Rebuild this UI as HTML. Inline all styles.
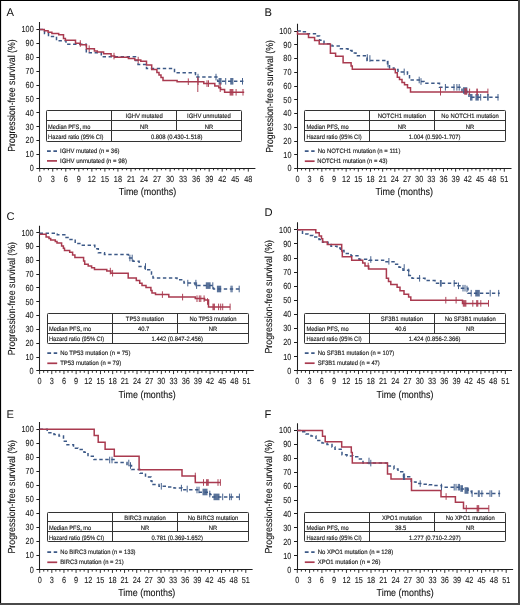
<!DOCTYPE html>
<html><head><meta charset="utf-8"><style>
html,body{margin:0;padding:0;background:#fff;}
svg{display:block;will-change:transform;}
text{font-family:"Liberation Sans", sans-serif;text-rendering:geometricPrecision;}
</style></head><body>
<svg width="520" height="605" viewBox="0 0 520 605">
<rect x="0" y="0" width="520" height="605" fill="#fff"/>
<text x="6.6" y="16.2" font-size="11.2" fill="#111" stroke="#111" stroke-width="0">A</text>
<path d="M39.5 22.1V168.5M36.4 168.5H255.4M36.4 168.5H39.5M36.4 154.5H39.5M36.4 140.5H39.5M36.4 126.5H39.5M36.4 112.5H39.5M36.4 98.5H39.5M36.4 85.5H39.5M36.4 71.5H39.5M36.4 57.5H39.5M36.4 43.5H39.5M36.4 29.5H39.5" stroke="#1e1e1e" stroke-width="1.05" fill="none"/>
<path d="M39.7 168.5V171.6M44.05 168.5V170.3M48.39 168.5V170.3M52.74 168.5V171.6M57.08 168.5V170.3M61.43 168.5V170.3M65.78 168.5V171.6M70.12 168.5V170.3M74.47 168.5V170.3M78.81 168.5V171.6M83.16 168.5V170.3M87.5 168.5V170.3M91.85 168.5V171.6M96.2 168.5V170.3M100.54 168.5V170.3M104.89 168.5V171.6M109.23 168.5V170.3M113.58 168.5V170.3M117.93 168.5V171.6M122.27 168.5V170.3M126.62 168.5V170.3M130.96 168.5V171.6M135.31 168.5V170.3M139.65 168.5V170.3M144 168.5V171.6M148.35 168.5V170.3M152.69 168.5V170.3M157.04 168.5V171.6M161.38 168.5V170.3M165.73 168.5V170.3M170.08 168.5V171.6M174.42 168.5V170.3M178.77 168.5V170.3M183.11 168.5V171.6M187.46 168.5V170.3M191.8 168.5V170.3M196.15 168.5V171.6M200.5 168.5V170.3M204.84 168.5V170.3M209.19 168.5V171.6M213.53 168.5V170.3M217.88 168.5V170.3M222.23 168.5V171.6M226.57 168.5V170.3M230.92 168.5V170.3M235.26 168.5V171.6M239.61 168.5V170.3M243.95 168.5V170.3M248.3 168.5V171.6" stroke="#1e1e1e" stroke-width="0.9" fill="none"/>
<text transform="translate(33.7 171.2) scale(0.8300 1)" font-size="8.8" text-anchor="end" fill="#1c1c1c" stroke="#1c1c1c" stroke-width="0.1">0</text>
<text transform="translate(33.7 157.3) scale(0.8300 1)" font-size="8.8" text-anchor="end" fill="#1c1c1c" stroke="#1c1c1c" stroke-width="0.1">10</text>
<text transform="translate(33.7 143.4) scale(0.8300 1)" font-size="8.8" text-anchor="end" fill="#1c1c1c" stroke="#1c1c1c" stroke-width="0.1">20</text>
<text transform="translate(33.7 129.5) scale(0.8300 1)" font-size="8.8" text-anchor="end" fill="#1c1c1c" stroke="#1c1c1c" stroke-width="0.1">30</text>
<text transform="translate(33.7 115.6) scale(0.8300 1)" font-size="8.8" text-anchor="end" fill="#1c1c1c" stroke="#1c1c1c" stroke-width="0.1">40</text>
<text transform="translate(33.7 101.7) scale(0.8300 1)" font-size="8.8" text-anchor="end" fill="#1c1c1c" stroke="#1c1c1c" stroke-width="0.1">50</text>
<text transform="translate(33.7 87.8) scale(0.8300 1)" font-size="8.8" text-anchor="end" fill="#1c1c1c" stroke="#1c1c1c" stroke-width="0.1">60</text>
<text transform="translate(33.7 73.9) scale(0.8300 1)" font-size="8.8" text-anchor="end" fill="#1c1c1c" stroke="#1c1c1c" stroke-width="0.1">70</text>
<text transform="translate(33.7 60) scale(0.8300 1)" font-size="8.8" text-anchor="end" fill="#1c1c1c" stroke="#1c1c1c" stroke-width="0.1">80</text>
<text transform="translate(33.7 46.1) scale(0.8300 1)" font-size="8.8" text-anchor="end" fill="#1c1c1c" stroke="#1c1c1c" stroke-width="0.1">90</text>
<text transform="translate(33.7 32.2) scale(0.8300 1)" font-size="8.8" text-anchor="end" fill="#1c1c1c" stroke="#1c1c1c" stroke-width="0.1">100</text>
<text transform="translate(39.7 181.5) scale(0.8300 1)" font-size="8.8" text-anchor="middle" fill="#1c1c1c" stroke="#1c1c1c" stroke-width="0.1">0</text>
<text transform="translate(52.74 181.5) scale(0.8300 1)" font-size="8.8" text-anchor="middle" fill="#1c1c1c" stroke="#1c1c1c" stroke-width="0.1">3</text>
<text transform="translate(65.78 181.5) scale(0.8300 1)" font-size="8.8" text-anchor="middle" fill="#1c1c1c" stroke="#1c1c1c" stroke-width="0.1">6</text>
<text transform="translate(78.81 181.5) scale(0.8300 1)" font-size="8.8" text-anchor="middle" fill="#1c1c1c" stroke="#1c1c1c" stroke-width="0.1">9</text>
<text transform="translate(91.85 181.5) scale(0.8300 1)" font-size="8.8" text-anchor="middle" fill="#1c1c1c" stroke="#1c1c1c" stroke-width="0.1">12</text>
<text transform="translate(104.89 181.5) scale(0.8300 1)" font-size="8.8" text-anchor="middle" fill="#1c1c1c" stroke="#1c1c1c" stroke-width="0.1">15</text>
<text transform="translate(117.93 181.5) scale(0.8300 1)" font-size="8.8" text-anchor="middle" fill="#1c1c1c" stroke="#1c1c1c" stroke-width="0.1">18</text>
<text transform="translate(130.96 181.5) scale(0.8300 1)" font-size="8.8" text-anchor="middle" fill="#1c1c1c" stroke="#1c1c1c" stroke-width="0.1">21</text>
<text transform="translate(144 181.5) scale(0.8300 1)" font-size="8.8" text-anchor="middle" fill="#1c1c1c" stroke="#1c1c1c" stroke-width="0.1">24</text>
<text transform="translate(157.04 181.5) scale(0.8300 1)" font-size="8.8" text-anchor="middle" fill="#1c1c1c" stroke="#1c1c1c" stroke-width="0.1">27</text>
<text transform="translate(170.08 181.5) scale(0.8300 1)" font-size="8.8" text-anchor="middle" fill="#1c1c1c" stroke="#1c1c1c" stroke-width="0.1">30</text>
<text transform="translate(183.11 181.5) scale(0.8300 1)" font-size="8.8" text-anchor="middle" fill="#1c1c1c" stroke="#1c1c1c" stroke-width="0.1">33</text>
<text transform="translate(196.15 181.5) scale(0.8300 1)" font-size="8.8" text-anchor="middle" fill="#1c1c1c" stroke="#1c1c1c" stroke-width="0.1">36</text>
<text transform="translate(209.19 181.5) scale(0.8300 1)" font-size="8.8" text-anchor="middle" fill="#1c1c1c" stroke="#1c1c1c" stroke-width="0.1">39</text>
<text transform="translate(222.23 181.5) scale(0.8300 1)" font-size="8.8" text-anchor="middle" fill="#1c1c1c" stroke="#1c1c1c" stroke-width="0.1">42</text>
<text transform="translate(235.26 181.5) scale(0.8300 1)" font-size="8.8" text-anchor="middle" fill="#1c1c1c" stroke="#1c1c1c" stroke-width="0.1">45</text>
<text transform="translate(248.3 181.5) scale(0.8300 1)" font-size="8.8" text-anchor="middle" fill="#1c1c1c" stroke="#1c1c1c" stroke-width="0.1">48</text>
<text transform="translate(118.8 195) scale(0.8782 1)" font-size="10.2" fill="#111" stroke="#111" stroke-width="0.1">Time (months)</text>
<g transform="translate(14.8 151.8) rotate(-90)"><text transform="translate(0 0) scale(0.8555 1)" font-size="10.2" fill="#111" stroke="#111" stroke-width="0.1">Progression-free survival (%)</text></g>
<rect x="46.5" y="110.5" width="195" height="31" rx="0.8" fill="#fff" stroke="#333333" stroke-width="1.0"/>
<path d="M46.5 120.5H241.5M46.5 130.5H241.5M111.5 110.5V141.5M176.5 110.5V130.5" stroke="#333333" stroke-width="1" fill="none"/>
<text transform="translate(48.1 128.5) scale(0.9030 1)" font-size="6.3" fill="#1a1a1a" stroke="#1a1a1a" stroke-width="0.15">Median PFS, mo</text>
<text transform="translate(48.1 138.8) scale(0.9090 1)" font-size="6.3" fill="#1a1a1a" stroke="#1a1a1a" stroke-width="0.15">Hazard ratio (95% CI)</text>
<text transform="translate(144.2 118.1) scale(0.9320 1)" font-size="6.3" text-anchor="middle" fill="#1a1a1a" stroke="#1a1a1a" stroke-width="0.15">IGHV mutated</text>
<text transform="translate(208.9 118.1) scale(0.9320 1)" font-size="6.3" text-anchor="middle" fill="#1a1a1a" stroke="#1a1a1a" stroke-width="0.15">IGHV unmutated</text>
<text transform="translate(144.2 128.5) scale(0.9320 1)" font-size="6.3" text-anchor="middle" fill="#1a1a1a" stroke="#1a1a1a" stroke-width="0.15">NR</text>
<text transform="translate(208.9 128.5) scale(0.9320 1)" font-size="6.3" text-anchor="middle" fill="#1a1a1a" stroke="#1a1a1a" stroke-width="0.15">NR</text>
<text transform="translate(176.7 138.8) scale(0.9320 1)" font-size="6.3" text-anchor="middle" fill="#1a1a1a" stroke="#1a1a1a" stroke-width="0.15">0.808 (0.430-1.518)</text>
<path d="M47 151.1H57" stroke="#3c5987" stroke-width="1.7" stroke-dasharray="3.8 2.6" fill="none"/>
<path d="M47 160.9H57" stroke="#a93a4f" stroke-width="1.7" fill="none"/>
<text transform="translate(60 152.9) scale(0.9346 1)" font-size="6.3" fill="#1a1a1a" stroke="#1a1a1a" stroke-width="0.15">IGHV mutated (n = 36)</text>
<text transform="translate(60 162.7) scale(0.9481 1)" font-size="6.3" fill="#1a1a1a" stroke="#1a1a1a" stroke-width="0.15">IGHV unmutated (n = 98)</text>
<path d="M39.7 29.6H44.5V33.6H48.5V36.5H56.5V40.8H66V44.2H86.3V52.7H101.3V56.7H135.5V60.5H138V64.4H146.5V68.5H174.5V72.8H195.5V77.1H217.7V81.3H244.2" stroke="#3c5987" stroke-width="1.5" fill="none" stroke-dasharray="3.4 2.6"/>
<path d="M39.7 29.6H44.3V30.7H48.1V32.2H51.9V33.6H58.7V34.8H63.5V38.4H65.4V40.2H75.5V43.2H80.3V44.7H86.4V48.7H94.4V51H97.3V52.1H103.6V53.8H111.1V56.1H114.6V57.3H128.4V58.5H134.8V60.1H140.8V61.2H146.5V65H151.7V69.6H156.9V72.5H159V75H161V77.5H163V80.6H177.1V81.7H203.8V83.6H214.8V86H218.8V87.7H220.6V89.4H224.6V92.3H244.2" stroke="#a93a4f" stroke-width="1.5" fill="none"/>
<path d="M198 73.8V80.4M216 73.8V80.4M225.7 78V84.6M242.5 78V84.6" stroke="#3c5987" stroke-width="0.95" fill="none"/>
<path d="M80.3 40.2V46.8M89.2 45.4V52M114 52.8V59.4M138.2 56.8V63.4M188.3 78.4V85M198.1 78.4V85M207 80.3V86.9M208.5 80.3V86.9M236.1 89V95.6M243 89V95.6" stroke="#a93a4f" stroke-width="0.95" fill="none"/>
<rect x="218.6" y="78" width="3" height="6.6" fill="#3c5987" fill-opacity="0.85"/>
<rect x="230.2" y="78" width="3.2" height="6.6" fill="#3c5987" fill-opacity="0.85"/>
<rect x="229.6" y="89" width="3.8" height="6.6" fill="#a93a4f" fill-opacity="0.85"/>
<path d="M197.8 77V92" stroke="#a93a4f" stroke-width="0.95" fill="none"/>
<path d="M220.2 83V92" stroke="#a93a4f" stroke-width="0.95" fill="none"/>
<text x="264.4" y="16.3" font-size="11.2" fill="#111" stroke="#111" stroke-width="0">B</text>
<path d="M297.5 23.8V168.5M294.2 168.5H511.5M294.2 168.5H297.5M294.2 154.5H297.5M294.2 141.5H297.5M294.2 127.5H297.5M294.2 113.5H297.5M294.2 99.5H297.5M294.2 86.5H297.5M294.2 72.5H297.5M294.2 58.5H297.5M294.2 44.5H297.5M294.2 31.5H297.5" stroke="#1e1e1e" stroke-width="1.05" fill="none"/>
<path d="M297.5 168.5V171.7M301.55 168.5V170.4M305.61 168.5V170.4M309.66 168.5V171.7M313.72 168.5V170.4M317.77 168.5V170.4M321.83 168.5V171.7M325.88 168.5V170.4M329.94 168.5V170.4M333.99 168.5V171.7M338.05 168.5V170.4M342.1 168.5V170.4M346.16 168.5V171.7M350.21 168.5V170.4M354.27 168.5V170.4M358.32 168.5V171.7M362.38 168.5V170.4M366.43 168.5V170.4M370.49 168.5V171.7M374.54 168.5V170.4M378.6 168.5V170.4M382.65 168.5V171.7M386.71 168.5V170.4M390.76 168.5V170.4M394.82 168.5V171.7M398.87 168.5V170.4M402.93 168.5V170.4M406.98 168.5V171.7M411.04 168.5V170.4M415.09 168.5V170.4M419.15 168.5V171.7M423.2 168.5V170.4M427.26 168.5V170.4M431.31 168.5V171.7M435.37 168.5V170.4M439.42 168.5V170.4M443.48 168.5V171.7M447.53 168.5V170.4M451.59 168.5V170.4M455.64 168.5V171.7M459.7 168.5V170.4M463.75 168.5V170.4M467.81 168.5V171.7M471.86 168.5V170.4M475.92 168.5V170.4M479.97 168.5V171.7M484.03 168.5V170.4M488.08 168.5V170.4M492.14 168.5V171.7M496.19 168.5V170.4M500.25 168.5V170.4M504.3 168.5V171.7" stroke="#1e1e1e" stroke-width="0.9" fill="none"/>
<text transform="translate(291.5 171.3) scale(0.8300 1)" font-size="8.8" text-anchor="end" fill="#1c1c1c" stroke="#1c1c1c" stroke-width="0.1">0</text>
<text transform="translate(291.5 157.55) scale(0.8300 1)" font-size="8.8" text-anchor="end" fill="#1c1c1c" stroke="#1c1c1c" stroke-width="0.1">10</text>
<text transform="translate(291.5 143.8) scale(0.8300 1)" font-size="8.8" text-anchor="end" fill="#1c1c1c" stroke="#1c1c1c" stroke-width="0.1">20</text>
<text transform="translate(291.5 130.05) scale(0.8300 1)" font-size="8.8" text-anchor="end" fill="#1c1c1c" stroke="#1c1c1c" stroke-width="0.1">30</text>
<text transform="translate(291.5 116.3) scale(0.8300 1)" font-size="8.8" text-anchor="end" fill="#1c1c1c" stroke="#1c1c1c" stroke-width="0.1">40</text>
<text transform="translate(291.5 102.55) scale(0.8300 1)" font-size="8.8" text-anchor="end" fill="#1c1c1c" stroke="#1c1c1c" stroke-width="0.1">50</text>
<text transform="translate(291.5 88.8) scale(0.8300 1)" font-size="8.8" text-anchor="end" fill="#1c1c1c" stroke="#1c1c1c" stroke-width="0.1">60</text>
<text transform="translate(291.5 75.05) scale(0.8300 1)" font-size="8.8" text-anchor="end" fill="#1c1c1c" stroke="#1c1c1c" stroke-width="0.1">70</text>
<text transform="translate(291.5 61.3) scale(0.8300 1)" font-size="8.8" text-anchor="end" fill="#1c1c1c" stroke="#1c1c1c" stroke-width="0.1">80</text>
<text transform="translate(291.5 47.55) scale(0.8300 1)" font-size="8.8" text-anchor="end" fill="#1c1c1c" stroke="#1c1c1c" stroke-width="0.1">90</text>
<text transform="translate(291.5 33.8) scale(0.8300 1)" font-size="8.8" text-anchor="end" fill="#1c1c1c" stroke="#1c1c1c" stroke-width="0.1">100</text>
<text transform="translate(297.5 181.6) scale(0.8300 1)" font-size="8.8" text-anchor="middle" fill="#1c1c1c" stroke="#1c1c1c" stroke-width="0.1">0</text>
<text transform="translate(309.66 181.6) scale(0.8300 1)" font-size="8.8" text-anchor="middle" fill="#1c1c1c" stroke="#1c1c1c" stroke-width="0.1">3</text>
<text transform="translate(321.83 181.6) scale(0.8300 1)" font-size="8.8" text-anchor="middle" fill="#1c1c1c" stroke="#1c1c1c" stroke-width="0.1">6</text>
<text transform="translate(333.99 181.6) scale(0.8300 1)" font-size="8.8" text-anchor="middle" fill="#1c1c1c" stroke="#1c1c1c" stroke-width="0.1">9</text>
<text transform="translate(346.16 181.6) scale(0.8300 1)" font-size="8.8" text-anchor="middle" fill="#1c1c1c" stroke="#1c1c1c" stroke-width="0.1">12</text>
<text transform="translate(358.32 181.6) scale(0.8300 1)" font-size="8.8" text-anchor="middle" fill="#1c1c1c" stroke="#1c1c1c" stroke-width="0.1">15</text>
<text transform="translate(370.49 181.6) scale(0.8300 1)" font-size="8.8" text-anchor="middle" fill="#1c1c1c" stroke="#1c1c1c" stroke-width="0.1">18</text>
<text transform="translate(382.65 181.6) scale(0.8300 1)" font-size="8.8" text-anchor="middle" fill="#1c1c1c" stroke="#1c1c1c" stroke-width="0.1">21</text>
<text transform="translate(394.82 181.6) scale(0.8300 1)" font-size="8.8" text-anchor="middle" fill="#1c1c1c" stroke="#1c1c1c" stroke-width="0.1">24</text>
<text transform="translate(406.98 181.6) scale(0.8300 1)" font-size="8.8" text-anchor="middle" fill="#1c1c1c" stroke="#1c1c1c" stroke-width="0.1">27</text>
<text transform="translate(419.15 181.6) scale(0.8300 1)" font-size="8.8" text-anchor="middle" fill="#1c1c1c" stroke="#1c1c1c" stroke-width="0.1">30</text>
<text transform="translate(431.31 181.6) scale(0.8300 1)" font-size="8.8" text-anchor="middle" fill="#1c1c1c" stroke="#1c1c1c" stroke-width="0.1">33</text>
<text transform="translate(443.48 181.6) scale(0.8300 1)" font-size="8.8" text-anchor="middle" fill="#1c1c1c" stroke="#1c1c1c" stroke-width="0.1">36</text>
<text transform="translate(455.64 181.6) scale(0.8300 1)" font-size="8.8" text-anchor="middle" fill="#1c1c1c" stroke="#1c1c1c" stroke-width="0.1">39</text>
<text transform="translate(467.81 181.6) scale(0.8300 1)" font-size="8.8" text-anchor="middle" fill="#1c1c1c" stroke="#1c1c1c" stroke-width="0.1">42</text>
<text transform="translate(479.97 181.6) scale(0.8300 1)" font-size="8.8" text-anchor="middle" fill="#1c1c1c" stroke="#1c1c1c" stroke-width="0.1">45</text>
<text transform="translate(492.14 181.6) scale(0.8300 1)" font-size="8.8" text-anchor="middle" fill="#1c1c1c" stroke="#1c1c1c" stroke-width="0.1">48</text>
<text transform="translate(504.3 181.6) scale(0.8300 1)" font-size="8.8" text-anchor="middle" fill="#1c1c1c" stroke="#1c1c1c" stroke-width="0.1">51</text>
<text transform="translate(375.4 195.1) scale(0.8828 1)" font-size="10.2" fill="#111" stroke="#111" stroke-width="0.1">Time (months)</text>
<g transform="translate(272.6 152.8) rotate(-90)"><text transform="translate(0 0) scale(0.8585 1)" font-size="10.2" fill="#111" stroke="#111" stroke-width="0.1">Progression-free survival (%)</text></g>
<rect x="304.5" y="110.5" width="201" height="31" rx="0.8" fill="#fff" stroke="#333333" stroke-width="1.0"/>
<path d="M304.5 120.5H505.5M304.5 130.5H505.5M369.5 110.5V141.5M434.5 110.5V130.5" stroke="#333333" stroke-width="1" fill="none"/>
<text transform="translate(306.4 128.5) scale(0.9030 1)" font-size="6.3" fill="#1a1a1a" stroke="#1a1a1a" stroke-width="0.15">Median PFS, mo</text>
<text transform="translate(306.4 138.9) scale(0.9090 1)" font-size="6.3" fill="#1a1a1a" stroke="#1a1a1a" stroke-width="0.15">Hazard ratio (95% CI)</text>
<text transform="translate(401.9 118.3) scale(0.9320 1)" font-size="6.3" text-anchor="middle" fill="#1a1a1a" stroke="#1a1a1a" stroke-width="0.15">NOTCH1 mutation</text>
<text transform="translate(470.05 118.3) scale(0.9320 1)" font-size="6.3" text-anchor="middle" fill="#1a1a1a" stroke="#1a1a1a" stroke-width="0.15">No NOTCH1 mutation</text>
<text transform="translate(401.9 128.5) scale(0.9320 1)" font-size="6.3" text-anchor="middle" fill="#1a1a1a" stroke="#1a1a1a" stroke-width="0.15">NR</text>
<text transform="translate(470.05 128.5) scale(0.9320 1)" font-size="6.3" text-anchor="middle" fill="#1a1a1a" stroke="#1a1a1a" stroke-width="0.15">NR</text>
<text transform="translate(434.6 138.9) scale(0.9320 1)" font-size="6.3" text-anchor="middle" fill="#1a1a1a" stroke="#1a1a1a" stroke-width="0.15">1.004 (0.590-1.707)</text>
<path d="M304.8 151.2H314.6" stroke="#3c5987" stroke-width="1.7" stroke-dasharray="3.8 2.6" fill="none"/>
<path d="M304.8 161.2H314.6" stroke="#a93a4f" stroke-width="1.7" fill="none"/>
<text transform="translate(317.7 153) scale(0.9417 1)" font-size="6.3" fill="#1a1a1a" stroke="#1a1a1a" stroke-width="0.15">No NOTCH1 mutation (n = 111)</text>
<text transform="translate(317.2 163) scale(0.9320 1)" font-size="6.3" fill="#1a1a1a" stroke="#1a1a1a" stroke-width="0.15">NOTCH1 mutation (n = 43)</text>
<path d="M297.5 31H302.5V31.8H307.5V33.7H315.4V36H319.6V40.2H324V43.7H332V46H340.5V48.8H348V50.6H352V52.9H356V55.8H367V60.4H387.5V65H389.5V67.9H394V69.6H398V71.9H407.5V74.2H409.5V80H421V81.5H424V83.3H439.5V87.3H462V91.5H469V97.3H498.5" stroke="#3c5987" stroke-width="1.5" fill="none" stroke-dasharray="3.4 2.6"/>
<path d="M297.5 31V34.1H308.5V37.4H314.6V40.6H319.2V44.1H330.4V53.2H335.6V56.3H343.1V62.7H351.1V66.1H352.3V69.2H395.3V72.7H397.3V77.3H399.5V79.6H402V82.5H404.5V84.8H407.5V87.7H410.5V91.9H487.9" stroke="#a93a4f" stroke-width="1.5" fill="none"/>
<path d="M367.3 54.2V60.8M369.9 55.2V61.8M388 60.7V67.3M404.2 68.6V75.2M419.2 76.7V83.3M421 78.2V84.8M445.4 84V90.6M454 84V90.6M456.9 84V90.6M459.2 84V90.6M480.7 94V100.6M498 94V100.6" stroke="#3c5987" stroke-width="0.95" fill="none"/>
<path d="M469.6 88.6V95.2M487.9 88.6V95.2" stroke="#a93a4f" stroke-width="0.95" fill="none"/>
<rect x="463" y="87.2" width="4.3" height="6.6" fill="#3c5987" fill-opacity="0.85"/>
<rect x="470" y="94" width="2.5" height="6.6" fill="#3c5987" fill-opacity="0.85"/>
<rect x="475.4" y="94" width="3.4" height="6.6" fill="#3c5987" fill-opacity="0.85"/>
<rect x="487" y="94" width="1.8" height="6.6" fill="#3c5987" fill-opacity="0.85"/>
<rect x="464.2" y="88.2" width="3" height="6.6" fill="#a93a4f" fill-opacity="0.85"/>
<rect x="476.2" y="88.6" width="1.8" height="6.6" fill="#a93a4f" fill-opacity="0.85"/>
<path d="M440.5 87.5V95.5" stroke="#a93a4f" stroke-width="0.95" fill="none"/>
<text x="6.6" y="219.8" font-size="11.2" fill="#111" stroke="#111" stroke-width="0">C</text>
<path d="M39.5 225.8V370.5M36.3 370.5H253.8M36.3 370.5H39.5M36.3 357.5H39.5M36.3 343.5H39.5M36.3 329.5H39.5M36.3 315.5H39.5M36.3 301.5H39.5M36.3 287.5H39.5M36.3 274.5H39.5M36.3 260.5H39.5M36.3 246.5H39.5M36.3 232.5H39.5" stroke="#1e1e1e" stroke-width="1.05" fill="none"/>
<path d="M39.6 370.5V374.1M43.66 370.5V372.8M47.72 370.5V372.8M51.78 370.5V374.1M55.84 370.5V372.8M59.89 370.5V372.8M63.95 370.5V374.1M68.01 370.5V372.8M72.07 370.5V372.8M76.13 370.5V374.1M80.19 370.5V372.8M84.25 370.5V372.8M88.31 370.5V374.1M92.36 370.5V372.8M96.42 370.5V372.8M100.48 370.5V374.1M104.54 370.5V372.8M108.6 370.5V372.8M112.66 370.5V374.1M116.72 370.5V372.8M120.78 370.5V372.8M124.84 370.5V374.1M128.89 370.5V372.8M132.95 370.5V372.8M137.01 370.5V374.1M141.07 370.5V372.8M145.13 370.5V372.8M149.19 370.5V374.1M153.25 370.5V372.8M157.31 370.5V372.8M161.36 370.5V374.1M165.42 370.5V372.8M169.48 370.5V372.8M173.54 370.5V374.1M177.6 370.5V372.8M181.66 370.5V372.8M185.72 370.5V374.1M189.78 370.5V372.8M193.84 370.5V372.8M197.89 370.5V374.1M201.95 370.5V372.8M206.01 370.5V372.8M210.07 370.5V374.1M214.13 370.5V372.8M218.19 370.5V372.8M222.25 370.5V374.1M226.31 370.5V372.8M230.36 370.5V372.8M234.42 370.5V374.1M238.48 370.5V372.8M242.54 370.5V372.8M246.6 370.5V374.1" stroke="#1e1e1e" stroke-width="0.9" fill="none"/>
<text transform="translate(33.6 373.7) scale(0.8300 1)" font-size="8.8" text-anchor="end" fill="#1c1c1c" stroke="#1c1c1c" stroke-width="0.1">0</text>
<text transform="translate(33.6 359.88) scale(0.8300 1)" font-size="8.8" text-anchor="end" fill="#1c1c1c" stroke="#1c1c1c" stroke-width="0.1">10</text>
<text transform="translate(33.6 346.06) scale(0.8300 1)" font-size="8.8" text-anchor="end" fill="#1c1c1c" stroke="#1c1c1c" stroke-width="0.1">20</text>
<text transform="translate(33.6 332.24) scale(0.8300 1)" font-size="8.8" text-anchor="end" fill="#1c1c1c" stroke="#1c1c1c" stroke-width="0.1">30</text>
<text transform="translate(33.6 318.42) scale(0.8300 1)" font-size="8.8" text-anchor="end" fill="#1c1c1c" stroke="#1c1c1c" stroke-width="0.1">40</text>
<text transform="translate(33.6 304.6) scale(0.8300 1)" font-size="8.8" text-anchor="end" fill="#1c1c1c" stroke="#1c1c1c" stroke-width="0.1">50</text>
<text transform="translate(33.6 290.78) scale(0.8300 1)" font-size="8.8" text-anchor="end" fill="#1c1c1c" stroke="#1c1c1c" stroke-width="0.1">60</text>
<text transform="translate(33.6 276.96) scale(0.8300 1)" font-size="8.8" text-anchor="end" fill="#1c1c1c" stroke="#1c1c1c" stroke-width="0.1">70</text>
<text transform="translate(33.6 263.14) scale(0.8300 1)" font-size="8.8" text-anchor="end" fill="#1c1c1c" stroke="#1c1c1c" stroke-width="0.1">80</text>
<text transform="translate(33.6 249.32) scale(0.8300 1)" font-size="8.8" text-anchor="end" fill="#1c1c1c" stroke="#1c1c1c" stroke-width="0.1">90</text>
<text transform="translate(33.6 235.5) scale(0.8300 1)" font-size="8.8" text-anchor="end" fill="#1c1c1c" stroke="#1c1c1c" stroke-width="0.1">100</text>
<text transform="translate(39.6 384) scale(0.8300 1)" font-size="8.8" text-anchor="middle" fill="#1c1c1c" stroke="#1c1c1c" stroke-width="0.1">0</text>
<text transform="translate(51.78 384) scale(0.8300 1)" font-size="8.8" text-anchor="middle" fill="#1c1c1c" stroke="#1c1c1c" stroke-width="0.1">3</text>
<text transform="translate(63.95 384) scale(0.8300 1)" font-size="8.8" text-anchor="middle" fill="#1c1c1c" stroke="#1c1c1c" stroke-width="0.1">6</text>
<text transform="translate(76.13 384) scale(0.8300 1)" font-size="8.8" text-anchor="middle" fill="#1c1c1c" stroke="#1c1c1c" stroke-width="0.1">9</text>
<text transform="translate(88.31 384) scale(0.8300 1)" font-size="8.8" text-anchor="middle" fill="#1c1c1c" stroke="#1c1c1c" stroke-width="0.1">12</text>
<text transform="translate(100.48 384) scale(0.8300 1)" font-size="8.8" text-anchor="middle" fill="#1c1c1c" stroke="#1c1c1c" stroke-width="0.1">15</text>
<text transform="translate(112.66 384) scale(0.8300 1)" font-size="8.8" text-anchor="middle" fill="#1c1c1c" stroke="#1c1c1c" stroke-width="0.1">18</text>
<text transform="translate(124.84 384) scale(0.8300 1)" font-size="8.8" text-anchor="middle" fill="#1c1c1c" stroke="#1c1c1c" stroke-width="0.1">21</text>
<text transform="translate(137.01 384) scale(0.8300 1)" font-size="8.8" text-anchor="middle" fill="#1c1c1c" stroke="#1c1c1c" stroke-width="0.1">24</text>
<text transform="translate(149.19 384) scale(0.8300 1)" font-size="8.8" text-anchor="middle" fill="#1c1c1c" stroke="#1c1c1c" stroke-width="0.1">27</text>
<text transform="translate(161.36 384) scale(0.8300 1)" font-size="8.8" text-anchor="middle" fill="#1c1c1c" stroke="#1c1c1c" stroke-width="0.1">30</text>
<text transform="translate(173.54 384) scale(0.8300 1)" font-size="8.8" text-anchor="middle" fill="#1c1c1c" stroke="#1c1c1c" stroke-width="0.1">33</text>
<text transform="translate(185.72 384) scale(0.8300 1)" font-size="8.8" text-anchor="middle" fill="#1c1c1c" stroke="#1c1c1c" stroke-width="0.1">36</text>
<text transform="translate(197.89 384) scale(0.8300 1)" font-size="8.8" text-anchor="middle" fill="#1c1c1c" stroke="#1c1c1c" stroke-width="0.1">39</text>
<text transform="translate(210.07 384) scale(0.8300 1)" font-size="8.8" text-anchor="middle" fill="#1c1c1c" stroke="#1c1c1c" stroke-width="0.1">42</text>
<text transform="translate(222.25 384) scale(0.8300 1)" font-size="8.8" text-anchor="middle" fill="#1c1c1c" stroke="#1c1c1c" stroke-width="0.1">45</text>
<text transform="translate(234.42 384) scale(0.8300 1)" font-size="8.8" text-anchor="middle" fill="#1c1c1c" stroke="#1c1c1c" stroke-width="0.1">48</text>
<text transform="translate(246.6 384) scale(0.8300 1)" font-size="8.8" text-anchor="middle" fill="#1c1c1c" stroke="#1c1c1c" stroke-width="0.1">51</text>
<text transform="translate(118.5 397.5) scale(0.8751 1)" font-size="10.2" fill="#111" stroke="#111" stroke-width="0.1">Time (months)</text>
<g transform="translate(14.7 355.3) rotate(-90)"><text transform="translate(0 0) scale(0.8623 1)" font-size="10.2" fill="#111" stroke="#111" stroke-width="0.1">Progression-free survival (%)</text></g>
<rect x="47.5" y="313.5" width="201" height="30" rx="0.8" fill="#fff" stroke="#333333" stroke-width="1.0"/>
<path d="M47.5 323.5H248.5M47.5 333.5H248.5M112.5 313.5V343.5M177.5 313.5V333.5" stroke="#333333" stroke-width="1" fill="none"/>
<text transform="translate(48.9 331.4) scale(0.9030 1)" font-size="6.3" fill="#1a1a1a" stroke="#1a1a1a" stroke-width="0.15">Median PFS, mo</text>
<text transform="translate(48.9 341) scale(0.9090 1)" font-size="6.3" fill="#1a1a1a" stroke="#1a1a1a" stroke-width="0.15">Hazard ratio (95% CI)</text>
<text transform="translate(144.95 321.4) scale(0.9320 1)" font-size="6.3" text-anchor="middle" fill="#1a1a1a" stroke="#1a1a1a" stroke-width="0.15">TP53 mutation</text>
<text transform="translate(213 321.4) scale(0.9320 1)" font-size="6.3" text-anchor="middle" fill="#1a1a1a" stroke="#1a1a1a" stroke-width="0.15">No TP53 mutation</text>
<text transform="translate(143.65 331.4) scale(0.9320 1)" font-size="6.3" text-anchor="middle" fill="#1a1a1a" stroke="#1a1a1a" stroke-width="0.15">40.7</text>
<text transform="translate(213 331.4) scale(0.9320 1)" font-size="6.3" text-anchor="middle" fill="#1a1a1a" stroke="#1a1a1a" stroke-width="0.15">NR</text>
<text transform="translate(177.3 341) scale(0.9320 1)" font-size="6.3" text-anchor="middle" fill="#1a1a1a" stroke="#1a1a1a" stroke-width="0.15">1.442 (0.847-2.456)</text>
<path d="M47.3 353.1H57.2" stroke="#3c5987" stroke-width="1.7" stroke-dasharray="3.8 2.6" fill="none"/>
<path d="M47.3 363.3H57.2" stroke="#a93a4f" stroke-width="1.7" fill="none"/>
<text transform="translate(60.2 354.9) scale(0.9448 1)" font-size="6.3" fill="#1a1a1a" stroke="#1a1a1a" stroke-width="0.15">No TP53 mutation (n = 75)</text>
<text transform="translate(60.2 365.1) scale(0.9442 1)" font-size="6.3" fill="#1a1a1a" stroke="#1a1a1a" stroke-width="0.15">TP53 mutation (n = 79)</text>
<path d="M39.6 233.2H57.3V234.7H64.8V237.5H68V239.5H75.2V243.6H81.5V245.2H94.8V248.7H98.3V252.8H104.5V254.5H128.4V258H133V261.3H139.1V266.5H145V269.8H151.5V274H153V277.9H177V279.8H184V283.1H195V285.6H213.5V289H240.6" stroke="#3c5987" stroke-width="1.5" fill="none" stroke-dasharray="3.4 2.6"/>
<path d="M39.6 234.3H46.1V237H49V238.6H50.7V239.9H55.3V241.6H57V243H61.6V245.9H63.4V248.2H64.5V250.5H69.7V252.2H72.6V255.1H74.9V257.4H83.6V260.9H84.7V264.3H88.2V266.1H91.6V267.8H94.5V269.4H106.8V271.1H110.9V273.2H128.2V278.1H136.3V280.4H139.7V283.3H142V285.5H146V287.5H150.9V290.6H152V292.9H155.5V294.6H168.8V297.1H195.3V298.6H204.6V300H208.5V306.9H230.2" stroke="#a93a4f" stroke-width="1.5" fill="none"/>
<path d="M129.9 254.7V261.3M132.2 254.7V261.3M145.5 263.2V269.8M187.8 279.8V286.4M195.9 279.8V286.4M196.6 282.3V288.9M212.8 282.3V288.9M231 285.7V292.3M232.1 285.7V292.3M239.2 285.7V292.3" stroke="#3c5987" stroke-width="0.95" fill="none"/>
<path d="M110.3 267.8V274.4M112.6 269.9V276.5M162.4 291.3V297.9M182.6 293.8V300.4M197 295.4V302M199.3 295.4V302M200.8 295.4V302M204.1 295.4V302M207.5 298.2V304.8M218.6 303.6V310.2M220.7 303.6V310.2M222.7 303.6V310.2M230.1 303.6V310.2" stroke="#a93a4f" stroke-width="0.95" fill="none"/>
<rect x="205.8" y="282.3" width="4.8" height="6.6" fill="#3c5987" fill-opacity="0.85"/>
<rect x="216.9" y="285.7" width="4.3" height="6.6" fill="#3c5987" fill-opacity="0.85"/>
<rect x="212.4" y="303.6" width="2.6" height="6.6" fill="#a93a4f" fill-opacity="0.85"/>
<text x="264.6" y="216" font-size="11.2" fill="#111" stroke="#111" stroke-width="0">D</text>
<path d="M297.5 222.3V370.5M294 370.5H512M294 370.5H297.5M294 356.5H297.5M294 342.5H297.5M294 328.5H297.5M294 314.5H297.5M294 300.5H297.5M294 286.5H297.5M294 272.5H297.5M294 258.5H297.5M294 243.5H297.5M294 229.5H297.5" stroke="#1e1e1e" stroke-width="1.05" fill="none"/>
<path d="M297.3 370.5V374.1M301.38 370.5V372.8M305.46 370.5V372.8M309.54 370.5V374.1M313.62 370.5V372.8M317.7 370.5V372.8M321.78 370.5V374.1M325.86 370.5V372.8M329.94 370.5V372.8M334.02 370.5V374.1M338.1 370.5V372.8M342.18 370.5V372.8M346.26 370.5V374.1M350.35 370.5V372.8M354.43 370.5V372.8M358.51 370.5V374.1M362.59 370.5V372.8M366.67 370.5V372.8M370.75 370.5V374.1M374.83 370.5V372.8M378.91 370.5V372.8M382.99 370.5V374.1M387.07 370.5V372.8M391.15 370.5V372.8M395.23 370.5V374.1M399.31 370.5V372.8M403.39 370.5V372.8M407.47 370.5V374.1M411.55 370.5V372.8M415.63 370.5V372.8M419.71 370.5V374.1M423.79 370.5V372.8M427.87 370.5V372.8M431.95 370.5V374.1M436.03 370.5V372.8M440.11 370.5V372.8M444.19 370.5V374.1M448.27 370.5V372.8M452.35 370.5V372.8M456.44 370.5V374.1M460.52 370.5V372.8M464.6 370.5V372.8M468.68 370.5V374.1M472.76 370.5V372.8M476.84 370.5V372.8M480.92 370.5V374.1M485 370.5V372.8M489.08 370.5V372.8M493.16 370.5V374.1M497.24 370.5V372.8M501.32 370.5V372.8M505.4 370.5V374.1" stroke="#1e1e1e" stroke-width="0.9" fill="none"/>
<text transform="translate(291.3 373.7) scale(0.8300 1)" font-size="8.8" text-anchor="end" fill="#1c1c1c" stroke="#1c1c1c" stroke-width="0.1">0</text>
<text transform="translate(291.3 359.59) scale(0.8300 1)" font-size="8.8" text-anchor="end" fill="#1c1c1c" stroke="#1c1c1c" stroke-width="0.1">10</text>
<text transform="translate(291.3 345.48) scale(0.8300 1)" font-size="8.8" text-anchor="end" fill="#1c1c1c" stroke="#1c1c1c" stroke-width="0.1">20</text>
<text transform="translate(291.3 331.37) scale(0.8300 1)" font-size="8.8" text-anchor="end" fill="#1c1c1c" stroke="#1c1c1c" stroke-width="0.1">30</text>
<text transform="translate(291.3 317.26) scale(0.8300 1)" font-size="8.8" text-anchor="end" fill="#1c1c1c" stroke="#1c1c1c" stroke-width="0.1">40</text>
<text transform="translate(291.3 303.15) scale(0.8300 1)" font-size="8.8" text-anchor="end" fill="#1c1c1c" stroke="#1c1c1c" stroke-width="0.1">50</text>
<text transform="translate(291.3 289.04) scale(0.8300 1)" font-size="8.8" text-anchor="end" fill="#1c1c1c" stroke="#1c1c1c" stroke-width="0.1">60</text>
<text transform="translate(291.3 274.93) scale(0.8300 1)" font-size="8.8" text-anchor="end" fill="#1c1c1c" stroke="#1c1c1c" stroke-width="0.1">70</text>
<text transform="translate(291.3 260.82) scale(0.8300 1)" font-size="8.8" text-anchor="end" fill="#1c1c1c" stroke="#1c1c1c" stroke-width="0.1">80</text>
<text transform="translate(291.3 246.71) scale(0.8300 1)" font-size="8.8" text-anchor="end" fill="#1c1c1c" stroke="#1c1c1c" stroke-width="0.1">90</text>
<text transform="translate(291.3 232.6) scale(0.8300 1)" font-size="8.8" text-anchor="end" fill="#1c1c1c" stroke="#1c1c1c" stroke-width="0.1">100</text>
<text transform="translate(297.3 384) scale(0.8300 1)" font-size="8.8" text-anchor="middle" fill="#1c1c1c" stroke="#1c1c1c" stroke-width="0.1">0</text>
<text transform="translate(309.54 384) scale(0.8300 1)" font-size="8.8" text-anchor="middle" fill="#1c1c1c" stroke="#1c1c1c" stroke-width="0.1">3</text>
<text transform="translate(321.78 384) scale(0.8300 1)" font-size="8.8" text-anchor="middle" fill="#1c1c1c" stroke="#1c1c1c" stroke-width="0.1">6</text>
<text transform="translate(334.02 384) scale(0.8300 1)" font-size="8.8" text-anchor="middle" fill="#1c1c1c" stroke="#1c1c1c" stroke-width="0.1">9</text>
<text transform="translate(346.26 384) scale(0.8300 1)" font-size="8.8" text-anchor="middle" fill="#1c1c1c" stroke="#1c1c1c" stroke-width="0.1">12</text>
<text transform="translate(358.51 384) scale(0.8300 1)" font-size="8.8" text-anchor="middle" fill="#1c1c1c" stroke="#1c1c1c" stroke-width="0.1">15</text>
<text transform="translate(370.75 384) scale(0.8300 1)" font-size="8.8" text-anchor="middle" fill="#1c1c1c" stroke="#1c1c1c" stroke-width="0.1">18</text>
<text transform="translate(382.99 384) scale(0.8300 1)" font-size="8.8" text-anchor="middle" fill="#1c1c1c" stroke="#1c1c1c" stroke-width="0.1">21</text>
<text transform="translate(395.23 384) scale(0.8300 1)" font-size="8.8" text-anchor="middle" fill="#1c1c1c" stroke="#1c1c1c" stroke-width="0.1">24</text>
<text transform="translate(407.47 384) scale(0.8300 1)" font-size="8.8" text-anchor="middle" fill="#1c1c1c" stroke="#1c1c1c" stroke-width="0.1">27</text>
<text transform="translate(419.71 384) scale(0.8300 1)" font-size="8.8" text-anchor="middle" fill="#1c1c1c" stroke="#1c1c1c" stroke-width="0.1">30</text>
<text transform="translate(431.95 384) scale(0.8300 1)" font-size="8.8" text-anchor="middle" fill="#1c1c1c" stroke="#1c1c1c" stroke-width="0.1">33</text>
<text transform="translate(444.19 384) scale(0.8300 1)" font-size="8.8" text-anchor="middle" fill="#1c1c1c" stroke="#1c1c1c" stroke-width="0.1">36</text>
<text transform="translate(456.44 384) scale(0.8300 1)" font-size="8.8" text-anchor="middle" fill="#1c1c1c" stroke="#1c1c1c" stroke-width="0.1">39</text>
<text transform="translate(468.68 384) scale(0.8300 1)" font-size="8.8" text-anchor="middle" fill="#1c1c1c" stroke="#1c1c1c" stroke-width="0.1">42</text>
<text transform="translate(480.92 384) scale(0.8300 1)" font-size="8.8" text-anchor="middle" fill="#1c1c1c" stroke="#1c1c1c" stroke-width="0.1">45</text>
<text transform="translate(493.16 384) scale(0.8300 1)" font-size="8.8" text-anchor="middle" fill="#1c1c1c" stroke="#1c1c1c" stroke-width="0.1">48</text>
<text transform="translate(505.4 384) scale(0.8300 1)" font-size="8.8" text-anchor="middle" fill="#1c1c1c" stroke="#1c1c1c" stroke-width="0.1">51</text>
<text transform="translate(376.6 397.5) scale(0.8705 1)" font-size="10.2" fill="#111" stroke="#111" stroke-width="0.1">Time (months)</text>
<g transform="translate(272.4 353.5) rotate(-90)"><text transform="translate(0 0) scale(0.8638 1)" font-size="10.2" fill="#111" stroke="#111" stroke-width="0.1">Progression-free survival (%)</text></g>
<rect x="304.5" y="313.5" width="201" height="30" rx="0.8" fill="#fff" stroke="#333333" stroke-width="1.0"/>
<path d="M304.5 323.5H505.5M304.5 333.5H505.5M369.5 313.5V343.5M434.5 313.5V333.5" stroke="#333333" stroke-width="1" fill="none"/>
<text transform="translate(306.4 331.4) scale(0.9030 1)" font-size="6.3" fill="#1a1a1a" stroke="#1a1a1a" stroke-width="0.15">Median PFS, mo</text>
<text transform="translate(306.4 341) scale(0.9090 1)" font-size="6.3" fill="#1a1a1a" stroke="#1a1a1a" stroke-width="0.15">Hazard ratio (95% CI)</text>
<text transform="translate(401.9 321.4) scale(0.9320 1)" font-size="6.3" text-anchor="middle" fill="#1a1a1a" stroke="#1a1a1a" stroke-width="0.15">SF3B1 mutation</text>
<text transform="translate(470.25 321.4) scale(0.9320 1)" font-size="6.3" text-anchor="middle" fill="#1a1a1a" stroke="#1a1a1a" stroke-width="0.15">No SF3B1 mutation</text>
<text transform="translate(400.6 331.4) scale(0.9320 1)" font-size="6.3" text-anchor="middle" fill="#1a1a1a" stroke="#1a1a1a" stroke-width="0.15">40.6</text>
<text transform="translate(470.25 331.4) scale(0.9320 1)" font-size="6.3" text-anchor="middle" fill="#1a1a1a" stroke="#1a1a1a" stroke-width="0.15">NR</text>
<text transform="translate(434.6 341) scale(0.9320 1)" font-size="6.3" text-anchor="middle" fill="#1a1a1a" stroke="#1a1a1a" stroke-width="0.15">1.424 (0.856-2.366)</text>
<path d="M304.8 353.1H314.6" stroke="#3c5987" stroke-width="1.7" stroke-dasharray="3.8 2.6" fill="none"/>
<path d="M304.8 363.2H314.6" stroke="#a93a4f" stroke-width="1.7" fill="none"/>
<text transform="translate(317.7 354.9) scale(0.9316 1)" font-size="6.3" fill="#1a1a1a" stroke="#1a1a1a" stroke-width="0.15">No SF3B1 mutation (n = 107)</text>
<text transform="translate(317.7 365) scale(0.9212 1)" font-size="6.3" fill="#1a1a1a" stroke="#1a1a1a" stroke-width="0.15">SF3B1 mutated (n = 47)</text>
<path d="M297.3 229.8H302.5V234H308V235.4H313V237.1H319V239.4H322.5V242.3H328V244.5H331V246.2H337V248.1H340.5V250.4H344V253.5H351V255.8H359V259.2H369V260.2H386V261.8H394V264.2H399V267.3H403V270.2H408.7V275.4H412V278.3H425V280.6H435V283.3H456.5V285.8H461.5V288.2H468V293.2H499.8" stroke="#3c5987" stroke-width="1.5" fill="none" stroke-dasharray="3.4 2.6"/>
<path d="M297.3 229.8H315.8V232.8H319.2V236H321.5V238.8H322.7V242.1H327.3V244.6H341.7V251H342.3V256.7H351.7V260.2H362.7V263.1H365V266H368.7V269.1H386.4V278.3H388.5V281.5H390.8V284.4H397.1V287.3H400V290.8H404V294.2H408.6V297.1H410.8V300.2H462.5V303.4H488.4" stroke="#a93a4f" stroke-width="1.5" fill="none"/>
<path d="M370.8 256.2V262.8M388.9 258V264.6M404.2 264.2V270.8M408.7 268.7V275.3M419.6 275V281.6M440.4 280V286.6M441.2 280V286.6M454.2 280V286.6M458.5 282.5V289.1M463 284.9V291.5M465 284.9V291.5M467 285.7V292.3M471.2 289.9V296.5M490.2 289.9V296.5M498.7 289.9V296.5" stroke="#3c5987" stroke-width="0.95" fill="none"/>
<path d="M368.2 262.7V269.3M445.8 296.9V303.5M456.1 296.9V303.5M472.8 300.1V306.7M480.8 300.1V306.7M488.5 300.1V306.7" stroke="#a93a4f" stroke-width="0.95" fill="none"/>
<rect x="475.2" y="289.9" width="4.6" height="6.6" fill="#3c5987" fill-opacity="0.85"/>
<rect x="462.8" y="300.1" width="3.6" height="6.6" fill="#a93a4f" fill-opacity="0.85"/>
<rect x="476.1" y="300.1" width="2.2" height="6.6" fill="#a93a4f" fill-opacity="0.85"/>
<text x="6.6" y="418.3" font-size="11.2" fill="#111" stroke="#111" stroke-width="0">E</text>
<path d="M39.5 422.1V569.5M36.4 569.5H252.6M36.4 569.5H39.5M36.4 555.5H39.5M36.4 541.5H39.5M36.4 527.5H39.5M36.4 513.5H39.5M36.4 499.5H39.5M36.4 485.5H39.5M36.4 471.5H39.5M36.4 457.5H39.5M36.4 443.5H39.5M36.4 429.5H39.5" stroke="#1e1e1e" stroke-width="1.05" fill="none"/>
<path d="M39.7 569.5V572.9M43.74 569.5V571.6M47.78 569.5V571.6M51.82 569.5V572.9M55.86 569.5V571.6M59.91 569.5V571.6M63.95 569.5V572.9M67.99 569.5V571.6M72.03 569.5V571.6M76.07 569.5V572.9M80.11 569.5V571.6M84.15 569.5V571.6M88.19 569.5V572.9M92.24 569.5V571.6M96.28 569.5V571.6M100.32 569.5V572.9M104.36 569.5V571.6M108.4 569.5V571.6M112.44 569.5V572.9M116.48 569.5V571.6M120.52 569.5V571.6M124.56 569.5V572.9M128.61 569.5V571.6M132.65 569.5V571.6M136.69 569.5V572.9M140.73 569.5V571.6M144.77 569.5V571.6M148.81 569.5V572.9M152.85 569.5V571.6M156.89 569.5V571.6M160.94 569.5V572.9M164.98 569.5V571.6M169.02 569.5V571.6M173.06 569.5V572.9M177.1 569.5V571.6M181.14 569.5V571.6M185.18 569.5V572.9M189.22 569.5V571.6M193.26 569.5V571.6M197.31 569.5V572.9M201.35 569.5V571.6M205.39 569.5V571.6M209.43 569.5V572.9M213.47 569.5V571.6M217.51 569.5V571.6M221.55 569.5V572.9M225.59 569.5V571.6M229.64 569.5V571.6M233.68 569.5V572.9M237.72 569.5V571.6M241.76 569.5V571.6M245.8 569.5V572.9" stroke="#1e1e1e" stroke-width="0.9" fill="none"/>
<text transform="translate(33.7 572.5) scale(0.8300 1)" font-size="8.8" text-anchor="end" fill="#1c1c1c" stroke="#1c1c1c" stroke-width="0.1">0</text>
<text transform="translate(33.7 558.45) scale(0.8300 1)" font-size="8.8" text-anchor="end" fill="#1c1c1c" stroke="#1c1c1c" stroke-width="0.1">10</text>
<text transform="translate(33.7 544.4) scale(0.8300 1)" font-size="8.8" text-anchor="end" fill="#1c1c1c" stroke="#1c1c1c" stroke-width="0.1">20</text>
<text transform="translate(33.7 530.35) scale(0.8300 1)" font-size="8.8" text-anchor="end" fill="#1c1c1c" stroke="#1c1c1c" stroke-width="0.1">30</text>
<text transform="translate(33.7 516.3) scale(0.8300 1)" font-size="8.8" text-anchor="end" fill="#1c1c1c" stroke="#1c1c1c" stroke-width="0.1">40</text>
<text transform="translate(33.7 502.25) scale(0.8300 1)" font-size="8.8" text-anchor="end" fill="#1c1c1c" stroke="#1c1c1c" stroke-width="0.1">50</text>
<text transform="translate(33.7 488.2) scale(0.8300 1)" font-size="8.8" text-anchor="end" fill="#1c1c1c" stroke="#1c1c1c" stroke-width="0.1">60</text>
<text transform="translate(33.7 474.15) scale(0.8300 1)" font-size="8.8" text-anchor="end" fill="#1c1c1c" stroke="#1c1c1c" stroke-width="0.1">70</text>
<text transform="translate(33.7 460.1) scale(0.8300 1)" font-size="8.8" text-anchor="end" fill="#1c1c1c" stroke="#1c1c1c" stroke-width="0.1">80</text>
<text transform="translate(33.7 446.05) scale(0.8300 1)" font-size="8.8" text-anchor="end" fill="#1c1c1c" stroke="#1c1c1c" stroke-width="0.1">90</text>
<text transform="translate(33.7 432) scale(0.8300 1)" font-size="8.8" text-anchor="end" fill="#1c1c1c" stroke="#1c1c1c" stroke-width="0.1">100</text>
<text transform="translate(39.7 582.8) scale(0.8300 1)" font-size="8.8" text-anchor="middle" fill="#1c1c1c" stroke="#1c1c1c" stroke-width="0.1">0</text>
<text transform="translate(51.82 582.8) scale(0.8300 1)" font-size="8.8" text-anchor="middle" fill="#1c1c1c" stroke="#1c1c1c" stroke-width="0.1">3</text>
<text transform="translate(63.95 582.8) scale(0.8300 1)" font-size="8.8" text-anchor="middle" fill="#1c1c1c" stroke="#1c1c1c" stroke-width="0.1">6</text>
<text transform="translate(76.07 582.8) scale(0.8300 1)" font-size="8.8" text-anchor="middle" fill="#1c1c1c" stroke="#1c1c1c" stroke-width="0.1">9</text>
<text transform="translate(88.19 582.8) scale(0.8300 1)" font-size="8.8" text-anchor="middle" fill="#1c1c1c" stroke="#1c1c1c" stroke-width="0.1">12</text>
<text transform="translate(100.32 582.8) scale(0.8300 1)" font-size="8.8" text-anchor="middle" fill="#1c1c1c" stroke="#1c1c1c" stroke-width="0.1">15</text>
<text transform="translate(112.44 582.8) scale(0.8300 1)" font-size="8.8" text-anchor="middle" fill="#1c1c1c" stroke="#1c1c1c" stroke-width="0.1">18</text>
<text transform="translate(124.56 582.8) scale(0.8300 1)" font-size="8.8" text-anchor="middle" fill="#1c1c1c" stroke="#1c1c1c" stroke-width="0.1">21</text>
<text transform="translate(136.69 582.8) scale(0.8300 1)" font-size="8.8" text-anchor="middle" fill="#1c1c1c" stroke="#1c1c1c" stroke-width="0.1">24</text>
<text transform="translate(148.81 582.8) scale(0.8300 1)" font-size="8.8" text-anchor="middle" fill="#1c1c1c" stroke="#1c1c1c" stroke-width="0.1">27</text>
<text transform="translate(160.94 582.8) scale(0.8300 1)" font-size="8.8" text-anchor="middle" fill="#1c1c1c" stroke="#1c1c1c" stroke-width="0.1">30</text>
<text transform="translate(173.06 582.8) scale(0.8300 1)" font-size="8.8" text-anchor="middle" fill="#1c1c1c" stroke="#1c1c1c" stroke-width="0.1">33</text>
<text transform="translate(185.18 582.8) scale(0.8300 1)" font-size="8.8" text-anchor="middle" fill="#1c1c1c" stroke="#1c1c1c" stroke-width="0.1">36</text>
<text transform="translate(197.31 582.8) scale(0.8300 1)" font-size="8.8" text-anchor="middle" fill="#1c1c1c" stroke="#1c1c1c" stroke-width="0.1">39</text>
<text transform="translate(209.43 582.8) scale(0.8300 1)" font-size="8.8" text-anchor="middle" fill="#1c1c1c" stroke="#1c1c1c" stroke-width="0.1">42</text>
<text transform="translate(221.55 582.8) scale(0.8300 1)" font-size="8.8" text-anchor="middle" fill="#1c1c1c" stroke="#1c1c1c" stroke-width="0.1">45</text>
<text transform="translate(233.68 582.8) scale(0.8300 1)" font-size="8.8" text-anchor="middle" fill="#1c1c1c" stroke="#1c1c1c" stroke-width="0.1">48</text>
<text transform="translate(245.8 582.8) scale(0.8300 1)" font-size="8.8" text-anchor="middle" fill="#1c1c1c" stroke="#1c1c1c" stroke-width="0.1">51</text>
<text transform="translate(118.2 596.3) scale(0.8751 1)" font-size="10.2" fill="#111" stroke="#111" stroke-width="0.1">Time (months)</text>
<g transform="translate(14.8 553.5) rotate(-90)"><text transform="translate(0 0) scale(0.8638 1)" font-size="10.2" fill="#111" stroke="#111" stroke-width="0.1">Progression-free survival (%)</text></g>
<rect x="47.5" y="512.5" width="201" height="29" rx="0.8" fill="#fff" stroke="#333333" stroke-width="1.0"/>
<path d="M47.5 521.5H248.5M47.5 531.5H248.5M112.5 512.5V541.5M177.5 512.5V531.5" stroke="#333333" stroke-width="1" fill="none"/>
<text transform="translate(48.9 529.8) scale(0.9030 1)" font-size="6.3" fill="#1a1a1a" stroke="#1a1a1a" stroke-width="0.15">Median PFS, mo</text>
<text transform="translate(48.9 539.7) scale(0.9090 1)" font-size="6.3" fill="#1a1a1a" stroke="#1a1a1a" stroke-width="0.15">Hazard ratio (95% CI)</text>
<text transform="translate(144.95 519.6) scale(0.9320 1)" font-size="6.3" text-anchor="middle" fill="#1a1a1a" stroke="#1a1a1a" stroke-width="0.15">BIRC3 mutation</text>
<text transform="translate(213 519.6) scale(0.9320 1)" font-size="6.3" text-anchor="middle" fill="#1a1a1a" stroke="#1a1a1a" stroke-width="0.15">No BIRC3 mutation</text>
<text transform="translate(144.95 529.8) scale(0.9320 1)" font-size="6.3" text-anchor="middle" fill="#1a1a1a" stroke="#1a1a1a" stroke-width="0.15">NR</text>
<text transform="translate(213 529.8) scale(0.9320 1)" font-size="6.3" text-anchor="middle" fill="#1a1a1a" stroke="#1a1a1a" stroke-width="0.15">NR</text>
<text transform="translate(177.3 539.7) scale(0.9320 1)" font-size="6.3" text-anchor="middle" fill="#1a1a1a" stroke="#1a1a1a" stroke-width="0.15">0.781 (0.369-1.652)</text>
<path d="M47.3 552.1H57.2" stroke="#3c5987" stroke-width="1.7" stroke-dasharray="3.8 2.6" fill="none"/>
<path d="M47.3 562.3H57.2" stroke="#a93a4f" stroke-width="1.7" fill="none"/>
<text transform="translate(60.2 553.9) scale(0.9261 1)" font-size="6.3" fill="#1a1a1a" stroke="#1a1a1a" stroke-width="0.15">No BIRC3 mutation (n = 133)</text>
<text transform="translate(60.2 564.1) scale(0.9323 1)" font-size="6.3" fill="#1a1a1a" stroke="#1a1a1a" stroke-width="0.15">BIRC3 mutation (n = 21)</text>
<path d="M39.7 429.2H47.2V432.7H54V434.4H59V436.1H63.5V441.3H67V444.8H73.5V448.2H78V449.4H84V452.3H88V456.3H94V459.6H114V462.5H127V465.5H131.5V469.5H140V473.3H145.5V477.1H151V481.1H152V484.6H159V486.3H168V486.9H174V488.1H182V489.8H199.5V492.3H210V494.6H212V496.9H240" stroke="#3c5987" stroke-width="1.5" fill="none" stroke-dasharray="3.4 2.6"/>
<path d="M39.7 429.2H94.2V435.5H98.2V442.3H105.1V449.3H114.3V456.3H139.1V469.8H182V476H195.3V482.5H220.4" stroke="#a93a4f" stroke-width="1.5" fill="none"/>
<path d="M109.7 456.7V463.3M112 456.7V463.3M128.8 459.7V466.3M130.5 462.2V468.8M161.3 483V489.6M181.4 484.8V491.4M187.2 485.7V492.3M197 486.7V493.3M199 486.7V493.3M209.8 490.7V497.3M222.7 493.6V500.2M229.6 493.6V500.2M231.3 493.6V500.2M239.4 493.6V500.2" stroke="#3c5987" stroke-width="0.95" fill="none"/>
<path d="M195.3 472.7V479.3M203.5 479.2V485.8M218 479.2V485.8M220.4 479.2V485.8" stroke="#a93a4f" stroke-width="0.95" fill="none"/>
<rect x="202.5" y="488.7" width="5" height="6.6" fill="#3c5987" fill-opacity="0.85"/>
<rect x="213.5" y="493.6" width="6" height="6.6" fill="#3c5987" fill-opacity="0.85"/>
<rect x="206" y="479.2" width="2.8" height="6.6" fill="#a93a4f" fill-opacity="0.85"/>
<text x="264.6" y="417.9" font-size="11.2" fill="#111" stroke="#111" stroke-width="0">F</text>
<path d="M297.5 423.2V569.5M294 569.5H513.1M294 569.5H297.5M294 555.5H297.5M294 541.5H297.5M294 527.5H297.5M294 513.5H297.5M294 500.5H297.5M294 486.5H297.5M294 472.5H297.5M294 458.5H297.5M294 444.5H297.5M294 430.5H297.5" stroke="#1e1e1e" stroke-width="1.05" fill="none"/>
<path d="M297.3 569.5V572.9M301.4 569.5V571.6M305.49 569.5V571.6M309.59 569.5V572.9M313.68 569.5V571.6M317.78 569.5V571.6M321.88 569.5V572.9M325.97 569.5V571.6M330.07 569.5V571.6M334.16 569.5V572.9M338.26 569.5V571.6M342.36 569.5V571.6M346.45 569.5V572.9M350.55 569.5V571.6M354.65 569.5V571.6M358.74 569.5V572.9M362.84 569.5V571.6M366.93 569.5V571.6M371.03 569.5V572.9M375.13 569.5V571.6M379.22 569.5V571.6M383.32 569.5V572.9M387.41 569.5V571.6M391.51 569.5V571.6M395.61 569.5V572.9M399.7 569.5V571.6M403.8 569.5V571.6M407.89 569.5V572.9M411.99 569.5V571.6M416.09 569.5V571.6M420.18 569.5V572.9M424.28 569.5V571.6M428.37 569.5V571.6M432.47 569.5V572.9M436.57 569.5V571.6M440.66 569.5V571.6M444.76 569.5V572.9M448.85 569.5V571.6M452.95 569.5V571.6M457.05 569.5V572.9M461.14 569.5V571.6M465.24 569.5V571.6M469.34 569.5V572.9M473.43 569.5V571.6M477.53 569.5V571.6M481.62 569.5V572.9M485.72 569.5V571.6M489.82 569.5V571.6M493.91 569.5V572.9M498.01 569.5V571.6M502.1 569.5V571.6M506.2 569.5V572.9" stroke="#1e1e1e" stroke-width="0.9" fill="none"/>
<text transform="translate(291.3 572.5) scale(0.8300 1)" font-size="8.8" text-anchor="end" fill="#1c1c1c" stroke="#1c1c1c" stroke-width="0.1">0</text>
<text transform="translate(291.3 558.57) scale(0.8300 1)" font-size="8.8" text-anchor="end" fill="#1c1c1c" stroke="#1c1c1c" stroke-width="0.1">10</text>
<text transform="translate(291.3 544.64) scale(0.8300 1)" font-size="8.8" text-anchor="end" fill="#1c1c1c" stroke="#1c1c1c" stroke-width="0.1">20</text>
<text transform="translate(291.3 530.71) scale(0.8300 1)" font-size="8.8" text-anchor="end" fill="#1c1c1c" stroke="#1c1c1c" stroke-width="0.1">30</text>
<text transform="translate(291.3 516.78) scale(0.8300 1)" font-size="8.8" text-anchor="end" fill="#1c1c1c" stroke="#1c1c1c" stroke-width="0.1">40</text>
<text transform="translate(291.3 502.85) scale(0.8300 1)" font-size="8.8" text-anchor="end" fill="#1c1c1c" stroke="#1c1c1c" stroke-width="0.1">50</text>
<text transform="translate(291.3 488.92) scale(0.8300 1)" font-size="8.8" text-anchor="end" fill="#1c1c1c" stroke="#1c1c1c" stroke-width="0.1">60</text>
<text transform="translate(291.3 474.99) scale(0.8300 1)" font-size="8.8" text-anchor="end" fill="#1c1c1c" stroke="#1c1c1c" stroke-width="0.1">70</text>
<text transform="translate(291.3 461.06) scale(0.8300 1)" font-size="8.8" text-anchor="end" fill="#1c1c1c" stroke="#1c1c1c" stroke-width="0.1">80</text>
<text transform="translate(291.3 447.13) scale(0.8300 1)" font-size="8.8" text-anchor="end" fill="#1c1c1c" stroke="#1c1c1c" stroke-width="0.1">90</text>
<text transform="translate(291.3 433.2) scale(0.8300 1)" font-size="8.8" text-anchor="end" fill="#1c1c1c" stroke="#1c1c1c" stroke-width="0.1">100</text>
<text transform="translate(297.3 582.8) scale(0.8300 1)" font-size="8.8" text-anchor="middle" fill="#1c1c1c" stroke="#1c1c1c" stroke-width="0.1">0</text>
<text transform="translate(309.59 582.8) scale(0.8300 1)" font-size="8.8" text-anchor="middle" fill="#1c1c1c" stroke="#1c1c1c" stroke-width="0.1">3</text>
<text transform="translate(321.88 582.8) scale(0.8300 1)" font-size="8.8" text-anchor="middle" fill="#1c1c1c" stroke="#1c1c1c" stroke-width="0.1">6</text>
<text transform="translate(334.16 582.8) scale(0.8300 1)" font-size="8.8" text-anchor="middle" fill="#1c1c1c" stroke="#1c1c1c" stroke-width="0.1">9</text>
<text transform="translate(346.45 582.8) scale(0.8300 1)" font-size="8.8" text-anchor="middle" fill="#1c1c1c" stroke="#1c1c1c" stroke-width="0.1">12</text>
<text transform="translate(358.74 582.8) scale(0.8300 1)" font-size="8.8" text-anchor="middle" fill="#1c1c1c" stroke="#1c1c1c" stroke-width="0.1">15</text>
<text transform="translate(371.03 582.8) scale(0.8300 1)" font-size="8.8" text-anchor="middle" fill="#1c1c1c" stroke="#1c1c1c" stroke-width="0.1">18</text>
<text transform="translate(383.32 582.8) scale(0.8300 1)" font-size="8.8" text-anchor="middle" fill="#1c1c1c" stroke="#1c1c1c" stroke-width="0.1">21</text>
<text transform="translate(395.61 582.8) scale(0.8300 1)" font-size="8.8" text-anchor="middle" fill="#1c1c1c" stroke="#1c1c1c" stroke-width="0.1">24</text>
<text transform="translate(407.89 582.8) scale(0.8300 1)" font-size="8.8" text-anchor="middle" fill="#1c1c1c" stroke="#1c1c1c" stroke-width="0.1">27</text>
<text transform="translate(420.18 582.8) scale(0.8300 1)" font-size="8.8" text-anchor="middle" fill="#1c1c1c" stroke="#1c1c1c" stroke-width="0.1">30</text>
<text transform="translate(432.47 582.8) scale(0.8300 1)" font-size="8.8" text-anchor="middle" fill="#1c1c1c" stroke="#1c1c1c" stroke-width="0.1">33</text>
<text transform="translate(444.76 582.8) scale(0.8300 1)" font-size="8.8" text-anchor="middle" fill="#1c1c1c" stroke="#1c1c1c" stroke-width="0.1">36</text>
<text transform="translate(457.05 582.8) scale(0.8300 1)" font-size="8.8" text-anchor="middle" fill="#1c1c1c" stroke="#1c1c1c" stroke-width="0.1">39</text>
<text transform="translate(469.34 582.8) scale(0.8300 1)" font-size="8.8" text-anchor="middle" fill="#1c1c1c" stroke="#1c1c1c" stroke-width="0.1">42</text>
<text transform="translate(481.62 582.8) scale(0.8300 1)" font-size="8.8" text-anchor="middle" fill="#1c1c1c" stroke="#1c1c1c" stroke-width="0.1">45</text>
<text transform="translate(493.91 582.8) scale(0.8300 1)" font-size="8.8" text-anchor="middle" fill="#1c1c1c" stroke="#1c1c1c" stroke-width="0.1">48</text>
<text transform="translate(506.2 582.8) scale(0.8300 1)" font-size="8.8" text-anchor="middle" fill="#1c1c1c" stroke="#1c1c1c" stroke-width="0.1">51</text>
<text transform="translate(376.6 596.3) scale(0.8751 1)" font-size="10.2" fill="#111" stroke="#111" stroke-width="0.1">Time (months)</text>
<g transform="translate(272.4 553.5) rotate(-90)"><text transform="translate(0 0) scale(0.8638 1)" font-size="10.2" fill="#111" stroke="#111" stroke-width="0.1">Progression-free survival (%)</text></g>
<rect x="304.5" y="512.5" width="201" height="29" rx="0.8" fill="#fff" stroke="#333333" stroke-width="1.0"/>
<path d="M304.5 522.5H505.5M304.5 531.5H505.5M369.5 512.5V541.5M434.5 512.5V531.5" stroke="#333333" stroke-width="1" fill="none"/>
<text transform="translate(306.4 529.8) scale(0.9030 1)" font-size="6.3" fill="#1a1a1a" stroke="#1a1a1a" stroke-width="0.15">Median PFS, mo</text>
<text transform="translate(306.4 539.7) scale(0.9090 1)" font-size="6.3" fill="#1a1a1a" stroke="#1a1a1a" stroke-width="0.15">Hazard ratio (95% CI)</text>
<text transform="translate(401.9 519.7) scale(0.9320 1)" font-size="6.3" text-anchor="middle" fill="#1a1a1a" stroke="#1a1a1a" stroke-width="0.15">XPO1 mutation</text>
<text transform="translate(470.25 519.7) scale(0.9320 1)" font-size="6.3" text-anchor="middle" fill="#1a1a1a" stroke="#1a1a1a" stroke-width="0.15">No XPO1 mutation</text>
<text transform="translate(400.6 529.8) scale(0.9320 1)" font-size="6.3" text-anchor="middle" fill="#1a1a1a" stroke="#1a1a1a" stroke-width="0.15">38.5</text>
<text transform="translate(470.25 529.8) scale(0.9320 1)" font-size="6.3" text-anchor="middle" fill="#1a1a1a" stroke="#1a1a1a" stroke-width="0.15">NR</text>
<text transform="translate(434.85 539.7) scale(0.9320 1)" font-size="6.3" text-anchor="middle" fill="#1a1a1a" stroke="#1a1a1a" stroke-width="0.15">1.277 (0.710-2.297)</text>
<path d="M304.8 552.1H314.6" stroke="#3c5987" stroke-width="1.7" stroke-dasharray="3.8 2.6" fill="none"/>
<path d="M304.8 562.2H314.6" stroke="#a93a4f" stroke-width="1.7" fill="none"/>
<text transform="translate(317.7 553.9) scale(0.9489 1)" font-size="6.3" fill="#1a1a1a" stroke="#1a1a1a" stroke-width="0.15">No XPO1 mutation (n = 128)</text>
<text transform="translate(317.7 564) scale(0.9449 1)" font-size="6.3" fill="#1a1a1a" stroke="#1a1a1a" stroke-width="0.15">XPO1 mutation (n = 26)</text>
<path d="M297.3 430.4H301V431.7H306V434H311V436H316V440.6H322V442.9H327V444.4H332V446.9H335V449.2H342V454.8H347V455.9H353V456.7H357.7V459H363V463.1H387V466H394V469H398V471.7H403.5V476.7H411.2V481.9H416V483.6H422V484.2H429V484.8H433V485.4H441.5V487.2H459V489H468V491.3H471.5V493.6H500.2" stroke="#3c5987" stroke-width="1.5" fill="none" stroke-dasharray="3.4 2.6"/>
<path d="M297.3 430.4H322.5V436.2H325.2V441.7H341.7V446.9H351.3V452.5H352.3V463.1H387.5V474H391V479.1H411.5V490.6H441V496.7H455.4V502.3H463.5V508.4H488.8" stroke="#a93a4f" stroke-width="1.5" fill="none"/>
<path d="M369 457.7V464.3M370.8 459.8V466.4M403.5 473.4V480M404.6 473.4V480M420.2 480.3V486.9M441.5 483.7V490.3M454.2 483.9V490.5M456 483.9V490.5M458.3 483.9V490.5M459.4 483.9V490.5M472.1 490.3V496.9M481.9 490.3V496.9M490 490.3V496.9M491.7 490.3V496.9M499.2 490.3V496.9" stroke="#3c5987" stroke-width="0.95" fill="none"/>
<path d="M446.1 493.2V499.8M466.3 505.1V511.7M488.8 505.1V511.7" stroke="#a93a4f" stroke-width="0.95" fill="none"/>
<rect x="460.3" y="485.2" width="2.7" height="6.6" fill="#3c5987" fill-opacity="0.85"/>
<rect x="464.5" y="487.2" width="4" height="6.6" fill="#3c5987" fill-opacity="0.85"/>
<rect x="477.8" y="490.3" width="2" height="6.6" fill="#3c5987" fill-opacity="0.85"/>
<rect x="476.6" y="505.1" width="2.6" height="6.6" fill="#a93a4f" fill-opacity="0.85"/>
<path d="M0.5 0V605M0 0.5H520" stroke="#000" stroke-width="1.2" fill="none"/>
<path d="M519 0V605M0 604H520" stroke="#4a4a4a" stroke-width="2" fill="none"/>
</svg>
</body></html>
